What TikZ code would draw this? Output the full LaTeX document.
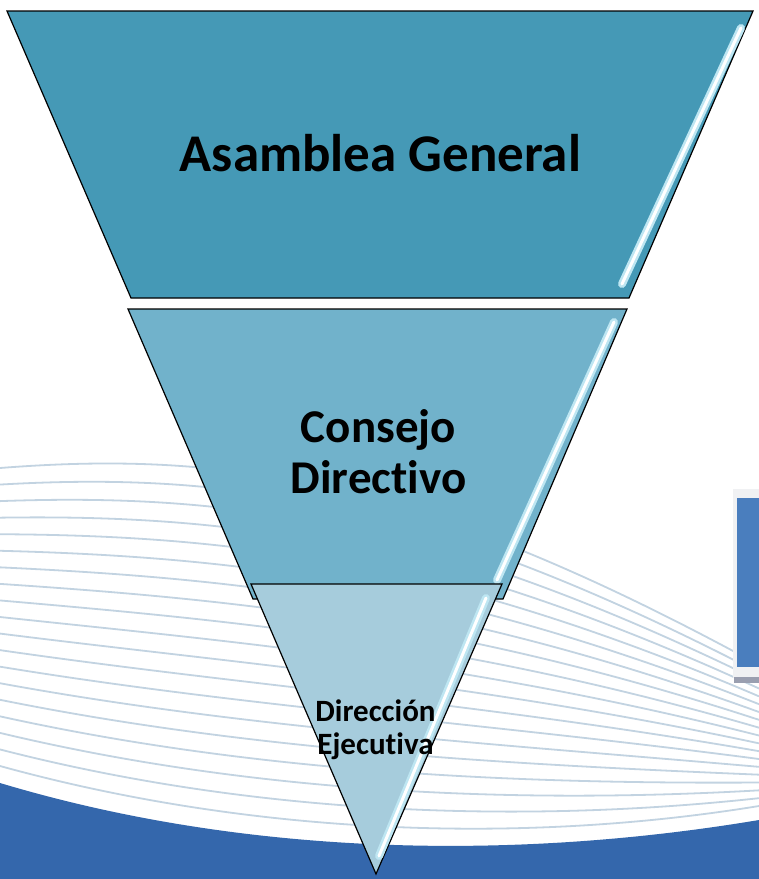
\documentclass[tikz,border=0pt]{standalone}
\usepackage{fontspec}
\setmainfont{Carlito}[Ligatures={NoCommon,NoContextual}]

\definecolor{asambleafill}{RGB}{69,153,182}
\definecolor{consejofill}{RGB}{113,178,203}
\definecolor{direccionfill}{RGB}{166,204,220}
\definecolor{glowblue}{RGB}{190,230,242}
\definecolor{stripegray}{RGB}{194,211,225}
\definecolor{bandblue}{RGB}{52,103,172}
\definecolor{boxblue}{RGB}{74,126,190}
\definecolor{boxframe}{RGB}{240,241,243}
\definecolor{boxshadow}{RGB}{154,159,176}

\begin{document}
\begin{tikzpicture}[x=1pt, y=-1pt,
    tier/.style={draw=black, line width=1.2pt, line join=miter},
    glow/.style={glowblue, line width=8pt, line cap=round},
    shine/.style={white, line width=3pt, line cap=round},
    stripe/.style={stripegray, line width=1.8pt},
    tierlabel/.style={align=center, inner sep=0pt, anchor=base}]
    \useasboundingbox (0,0) rectangle (759,879);
    \fill[white] (0,0) rectangle (759,879);

    \foreach \i in {0,...,18} {
        \pgfmathsetmacro{\ay}{468+298*\i/18}
        \pgfmathsetmacro{\bx}{230+20*\i/18}
        \pgfmathsetmacro{\by}{450+385*\i/18}
        \pgfmathsetmacro{\cx}{420+100*\i/18}
        \pgfmathsetmacro{\cy}{480+365*\i/18}
        \pgfmathsetmacro{\dy}{665+141*\i/18}
        \draw[stripe] (0,\ay) .. controls (\bx,\by) and (\cx,\cy) .. (759,\dy);
    }
    \fill[bandblue] (0,783) .. controls (250,858) and (520,860) .. (759,820) -- (759,879) -- (0,879) -- cycle;

    \fill[boxframe] (733,489) rectangle (759,678);
    \fill[boxshadow] (734,677) rectangle (759,683);
    \fill[boxblue] (737,498) rectangle (759,667);

    \draw[tier, fill=asambleafill] (7,11) -- (753,11) -- (629,298) -- (131,298) -- cycle;
    \draw[glow] (741,28) -- (622,284);
    \draw[shine] (741,28) -- (622,284);
    \node[tierlabel, font=\bfseries\fontsize{53}{60}\selectfont] (asamblea) at (380.5,171) {Asamblea General};

    \draw[tier, fill=consejofill] (128,309) -- (627,309) -- (503,599) -- (253,599) -- cycle;
    \draw[glow] (614,322) -- (497,580);
    \draw[shine] (614,322) -- (497,580);
    \node[tierlabel, font=\bfseries\fontsize{47}{51}\selectfont] (consejo) at (378.5,493) {Consejo\\Directivo};

    \draw[tier, fill=direccionfill] (251,584) -- (502,584) -- (376,874) -- cycle;
    \draw[glow] (486,598) -- (379,856);
    \draw[shine] (486,598) -- (379,856);
    \node[tierlabel, font=\bfseries\fontsize{31}{33}\selectfont] (direccion) at (375.5,754) {Dirección\\Ejecutiva};
\end{tikzpicture}
\end{document}
